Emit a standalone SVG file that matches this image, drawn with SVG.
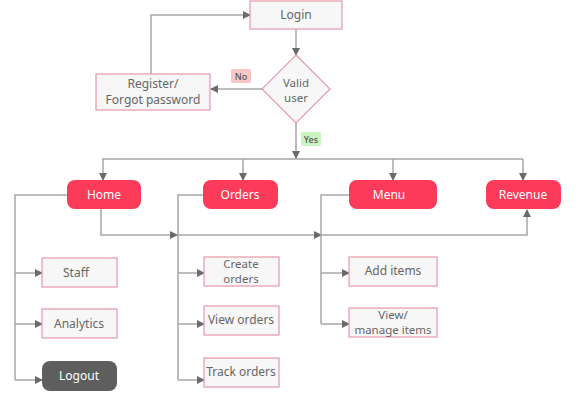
<svg xmlns="http://www.w3.org/2000/svg" width="588" height="418" viewBox="0 0 588 418">
<style>
.box{fill:#f7f7f7;stroke:#e59aa8;stroke-width:1.2}
.pill{fill:#fc3b5a}
.dark{fill:#5e5e5e}
.t{font-family:"Noto Sans","Open Sans",sans-serif;font-size:12px;fill:#666;text-anchor:middle}
.s{font-size:11.5px}
.w{font-family:"Noto Sans","Open Sans",sans-serif;font-size:12px;fill:#fff;text-anchor:middle}
.lbl{font-family:"Noto Sans","Open Sans",sans-serif;font-size:9px;font-weight:500;fill:#555;text-anchor:middle}
.c{fill:none;stroke:#a6a6a6;stroke-width:1.5}
</style>
<defs>
<marker id="a" viewBox="0 0 8 8" refX="7" refY="4" markerWidth="8" markerHeight="8" markerUnits="userSpaceOnUse" orient="auto">
<path d="M0,0 L8,4 L0,8 Z" fill="#6b6b6b"/>
</marker>
</defs>
<rect width="588" height="418" fill="#fff"/>
<g id="connectors">
<path class="c" d="M296 29 V55" marker-end="url(#a)"/>
<path class="c" d="M262 89 H211" marker-end="url(#a)"/>
<path class="c" d="M151 74 V15 H250" marker-end="url(#a)"/>
<path class="c" d="M296 123 V158" marker-end="url(#a)"/>
<path class="c" d="M102 159 H523"/>
<path class="c" d="M103 159 V180" marker-end="url(#a)"/>
<path class="c" d="M243 159 V180" marker-end="url(#a)"/>
<path class="c" d="M393 159 V180" marker-end="url(#a)"/>
<path class="c" d="M523 159 V180" marker-end="url(#a)"/>
<path class="c" d="M101 209 V235 H177" marker-end="url(#a)"/>
<path class="c" d="M177 235 H321" marker-end="url(#a)"/>
<path class="c" d="M321 235 H527 V210" marker-end="url(#a)"/>
<path class="c" d="M67 195 H15 V380"/>
<path class="c" d="M15 273 H42" marker-end="url(#a)"/>
<path class="c" d="M15 324 H42" marker-end="url(#a)"/>
<path class="c" d="M15 380 H42" marker-end="url(#a)"/>
<path class="c" d="M203 195 H178 V380"/>
<path class="c" d="M178 273 H204" marker-end="url(#a)"/>
<path class="c" d="M178 324 H204" marker-end="url(#a)"/>
<path class="c" d="M178 380 H204" marker-end="url(#a)"/>
<path class="c" d="M349 195 H321 V324"/>
<path class="c" d="M321 273 H349" marker-end="url(#a)"/>
<path class="c" d="M321 324 H349" marker-end="url(#a)"/>
<g id="label-no"><rect x="231" y="69" width="20" height="14" rx="2" fill="#f9c6c6"/><text class="lbl" x="241" y="79.5">No</text></g>
<g id="label-yes"><rect x="301" y="132" width="20" height="14" rx="2" fill="#c9f5c0"/><text class="lbl" x="311" y="142.5">Yes</text></g>
</g>
<g id="login"><rect class="box" x="250" y="1" width="92" height="28"/><text class="t" x="296" y="19">Login</text></g>
<g id="valid"><path class="box" d="M296 55 L330 89 L296 123 L262 89 Z"/><text class="t s" x="296" y="86.5">Valid</text><text class="t s" x="296" y="102">user</text></g>
<g id="register"><rect class="box" x="96" y="74" width="114" height="36"/><text class="t" x="153" y="88">Register/</text><text class="t" x="153" y="104">Forgot password</text></g>
<g id="home"><rect class="pill" x="67" y="180" width="74" height="29" rx="8"/><text class="w" x="104" y="199">Home</text></g>
<g id="orders"><rect class="pill" x="203" y="180" width="75" height="29" rx="8"/><text class="w" x="240" y="199">Orders</text></g>
<g id="menu"><rect class="pill" x="349" y="180" width="88" height="29" rx="8"/><text class="w" x="389" y="199">Menu</text></g>
<g id="revenue"><rect class="pill" x="486" y="180" width="75" height="29" rx="8"/><text class="w" x="523" y="199">Revenue</text></g>
<g id="staff"><rect class="box" x="42" y="258" width="75" height="29"/><text class="t" x="76" y="277">Staff</text></g>
<g id="analytics"><rect class="box" x="42" y="309" width="75" height="29"/><text class="t" x="79" y="328">Analytics</text></g>
<g id="logout"><rect class="dark" x="42" y="361" width="75" height="30" rx="8"/><text class="w" x="79" y="380">Logout</text></g>
<g id="create"><rect class="box" x="204" y="257" width="75" height="29"/><text class="t s" x="241" y="267.5">Create</text><text class="t s" x="241" y="283">orders</text></g>
<g id="view"><rect class="box" x="204" y="306" width="75" height="29"/><text class="t" x="241" y="324">View orders</text></g>
<g id="track"><rect class="box" x="204" y="358" width="75" height="29"/><text class="t" x="241" y="376">Track orders</text></g>
<g id="add"><rect class="box" x="349" y="257" width="88" height="29"/><text class="t" x="393" y="275">Add items</text></g>
<g id="manage"><rect class="box" x="349" y="308" width="88" height="29"/><text class="t s" x="393" y="318.5">View/</text><text class="t s" x="393" y="334">manage items</text></g>
</svg>
